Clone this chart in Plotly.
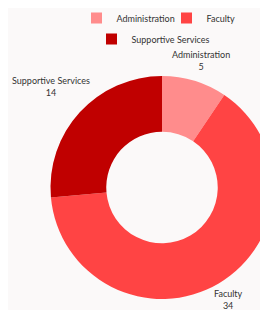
import math
import plotly.graph_objects as go

categories = ["Administration", "Faculty", "Supportive Services"]
values = [5, 34, 14]
colors = ["#ff8c8c", "#ff4444", "#c00000"]
legend_rows = ["legend", "legend", "legend2"]

W, H = 280, 310
L, T, S = 42, 67.5, 224
BG = "#fbf9f9"
TXT = "#333333"
FONT = "Lato"

fig = go.Figure()
fig.add_trace(go.Pie(
    labels=categories,
    values=values,
    marker=dict(colors=colors, line=dict(width=0)),
    hole=0.5,
    sort=False,
    direction="clockwise",
    rotation=0,
    textinfo="none",
    showlegend=False,
    hoverinfo="label+value+percent",
))

# legend entries (two centred rows)
for name, col, lg in zip(categories, colors, legend_rows):
    fig.add_trace(go.Scatter(
        x=[None], y=[None], mode="markers", name=name, legend=lg,
        marker=dict(symbol="square", size=11, color=col, line=dict(width=0)),
        hoverinfo="skip",
    ))

# outside labels placed along each slice's mid-angle
total = sum(values)
cum = 0
r = S / 2
for cat, v in zip(categories, values):
    mid = (cum + v / 2) / total * 2 * math.pi
    cum += v
    vx, vy = math.sin(mid), -math.cos(mid)
    w = 4.1 * max(len(cat), len(str(v)))
    h = 23
    d = r + 2 + abs(vx) * w / 2 + abs(vy) * h / 2
    fig.add_annotation(
        x=0.5 + d * vx / S, y=0.5 - d * vy / S, xref="paper", yref="paper",
        text=f"{cat}<br>{v}", showarrow=False, xanchor="center", yanchor="middle",
        font=dict(family=FONT, size=9, color=TXT),
    )

fig.update_layout(
    width=W, height=H,
    margin=dict(l=L, r=W - L - S, t=T, b=H - T - S),
    paper_bgcolor=BG,
    plot_bgcolor=BG,
    font=dict(family=FONT, size=9, color=TXT),
    xaxis=dict(visible=False),
    yaxis=dict(visible=False),
    legend=dict(orientation="h", xref="container", yref="container",
                x=158.5 / W, xanchor="center", y=1 - 10 / H, yanchor="middle",
                bgcolor="rgba(0,0,0,0)", entrywidth=45,
                font=dict(family=FONT, size=9, color=TXT)),
    legend2=dict(orientation="h", xref="container", yref="container",
                 x=145.5 / W, xanchor="center", y=1 - 31 / H, yanchor="middle",
                 bgcolor="rgba(0,0,0,0)",
                 font=dict(family=FONT, size=9, color=TXT)),
)

fig.write_html("out.html")
